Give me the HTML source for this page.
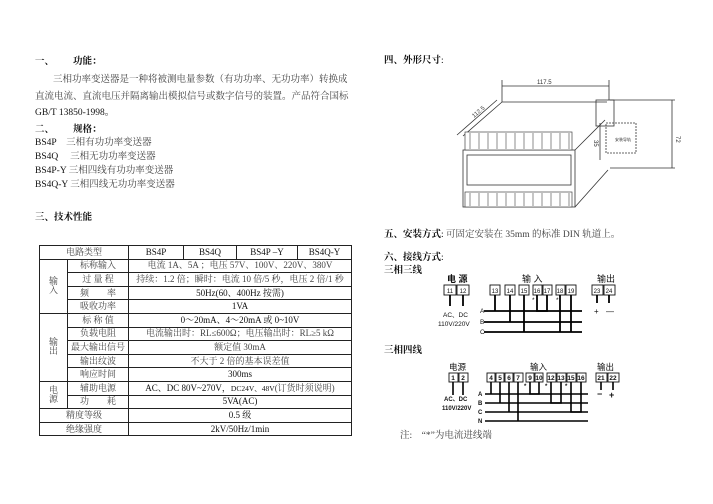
<!DOCTYPE html>
<html><head><meta charset="utf-8"><style>
html,body{margin:0;padding:0;background:#fff;}
body{width:713px;height:504px;position:relative;overflow:hidden;font-family:"Liberation Serif","Noto Serif CJK SC",serif;color:#111;}
.t{position:absolute;font-size:9.5px;white-space:nowrap;line-height:1;}
.b{font-weight:bold;}
table{position:absolute;left:39px;top:245px;border-collapse:collapse;font-size:9px;}
td{border:1px solid #222;height:12.6px;padding:0;text-align:center;line-height:1;}
.g{color:#444;}
</style></head><body>
<div class="t b" style="left:35px;top:58px">一、&nbsp;&nbsp;&nbsp;&nbsp;&nbsp;&nbsp;&nbsp;&nbsp;功能：</div>
<div class="t g" style="left:53px;top:76px">三相功率变送器是一种将被测电量参数（有功功率、无功功率）转换成</div>
<div class="t g" style="left:35px;top:93px">直流电流、直流电压并隔离输出模拟信号或数字信号的装置。产品符合国标</div>
<div class="t" style="left:35px;top:109px">GB/T 13850-1998。</div>
<div class="t b" style="left:35px;top:126px">二、&nbsp;&nbsp;&nbsp;&nbsp;&nbsp;&nbsp;&nbsp;&nbsp;规格：</div>
<div class="t" style="left:35px;top:139px">BS4P&nbsp;&nbsp;&nbsp;&nbsp;<span class="g">三相有功功率变送器</span></div>
<div class="t" style="left:35px;top:153px">BS4Q&nbsp;&nbsp;&nbsp;&nbsp;&nbsp;<span class="g">三相无功功率变送器</span></div>
<div class="t" style="left:35px;top:167px">BS4P-Y <span class="g">三相四线有功功率变送器</span></div>
<div class="t" style="left:35px;top:181px">BS4Q-Y <span class="g">三相四线无功功率变送器</span></div>
<div class="t b" style="left:35px;top:214px">三、技术性能</div>

<table>
<tr><td colspan="2" style="width:88px" class="g">电路类型</td><td style="width:54px">BS4P</td><td style="width:52px">BS4Q</td><td style="width:60px">BS4P –Y</td><td style="width:53px">BS4Q-Y</td></tr>
<tr><td rowspan="4" style="width:27px" class="g">输<br>入</td><td class="g">标称输入</td><td colspan="4" class="g">电流 1A、5A ；电压 57V、100V、220V、380V</td></tr>
<tr><td class="g">过 量 程</td><td colspan="4" class="g">持续：1.2 倍；瞬时：电流 10 倍/5 秒，电压 2 倍/1 秒</td></tr>
<tr><td class="g">频　　率</td><td colspan="4">50Hz(60、400Hz 按需)</td></tr>
<tr><td class="g">吸收功率</td><td colspan="4">1VA</td></tr>
<tr><td rowspan="5" class="g">输<br>出</td><td class="g">标 称 值</td><td colspan="4">0～20mA、4～20mA 或 0~10V</td></tr>
<tr><td class="g">负载电阻</td><td colspan="4" class="g">电流输出时：RL≤600Ω；电压输出时：RL≥5 kΩ</td></tr>
<tr><td class="g">最大输出信号</td><td colspan="4" class="g">额定值 30mA</td></tr>
<tr><td class="g">输出纹波</td><td colspan="4" class="g">不大于 2 倍的基本误差值</td></tr>
<tr><td class="g">响应时间</td><td colspan="4">300ms</td></tr>
<tr><td rowspan="2" class="g">电<br>源</td><td class="g">辅助电源</td><td colspan="4">AC、DC 80V~270V，<span style="font-size:7.5px">DC24V、48V</span><span class="g">(订货时须说明)</span></td></tr>
<tr><td class="g">功　　耗</td><td colspan="4">5VA(AC)</td></tr>
<tr><td colspan="2" class="g">精度等级</td><td colspan="4">0.5 级</td></tr>
<tr><td colspan="2" class="g">绝缘强度</td><td colspan="4">2kV/50Hz/1min</td></tr>
</table>

<div class="t b" style="left:384px;top:57px">四、外形尺寸<span style="font-weight:normal">:</span></div>
<div class="t b" style="left:384px;top:231px">五、安装方式<span style="font-weight:normal">: <span class="g">可固定安装在 35mm 的标准 DIN 轨道上。</span></span></div>
<div class="t b" style="left:384px;top:254px">六、接线方式<span style="font-weight:normal">:</span></div>
<div class="t b" style="left:384px;top:267px">三相三线</div>
<div class="t b" style="left:384px;top:347px">三相四线</div>
<div class="t g" style="left:400px;top:432px">注:　“*”为电流进线端</div>

<svg width="713" height="504" style="position:absolute;left:0;top:0" font-family="Liberation Sans, Noto Sans CJK SC, sans-serif">
<g stroke="#333" fill="none" stroke-width="0.8">
<line x1="502" y1="86" x2="609" y2="86"/><line x1="502" y1="80" x2="502" y2="102"/><line x1="609" y1="80" x2="609" y2="100"/>
<line x1="457" y1="135" x2="497" y2="100"/><line x1="463" y1="136" x2="502" y2="102"/><line x1="502" y1="102" x2="607" y2="102"/>
<line x1="610" y1="100" x2="675" y2="100"/><line x1="610" y1="168" x2="675" y2="168"/>
<line x1="672" y1="100" x2="672" y2="168"/>
<rect x="463" y="150" width="112" height="57"/>
<rect x="467" y="155" width="104" height="30"/>
<line x1="575" y1="150" x2="605" y2="120"/><line x1="575" y1="207" x2="608" y2="170"/>
<rect x="596" y="100" width="18" height="26"/>
<rect x="606" y="123" width="30" height="30" stroke-dasharray="2,1"/>
<line x1="600" y1="123" x2="600" y2="160"/>
</g>
<g stroke="#444" stroke-width="0.7" fill="#fff">
<rect x="465" y="132" width="107" height="18"/><rect x="465" y="192" width="107" height="15"/>
</g>
<g stroke="#444" stroke-width="0.6">
<path d="M470 133v16M479 133v16M488 133v16M497 133v16M506 133v16M515 133v16M524 133v16M533 133v16M542 133v16M551 133v16M560 133v16M569 133v16"/>
<path d="M470 193v13M479 193v13M488 193v13M497 193v13M506 193v13M515 193v13M524 193v13M533 193v13M542 193v13M551 193v13M560 193v13M569 193v13"/>
</g>
<text x="537" y="84" font-size="6" fill="#333">117.5</text>
<text x="474" y="118" font-size="6" fill="#333" transform="rotate(-40 474 118)">112.5</text>
<text x="676" y="136" font-size="6" fill="#333" transform="rotate(90 676 136)">72</text>
<text x="594" y="140" font-size="6" fill="#333" transform="rotate(90 594 140)">35</text>
<text x="615" y="141" font-size="4" fill="#333">安装导轨</text>

<!-- 3-phase 3-wire -->
<g font-size="9" fill="#111">
<text x="447" y="282" font-weight="bold">电 源</text>
<text x="522" y="282">输 入</text>
<text x="597" y="282">输出</text>
</g>
<g stroke="#111" fill="#fff" stroke-width="0.9">
<rect x="444" y="285" width="12" height="10"/><rect x="457" y="285" width="12" height="10"/>
<rect x="490" y="285" width="10" height="10"/><rect x="505" y="285" width="10" height="10"/><rect x="519" y="285" width="10" height="10"/>
<rect x="533" y="285" width="9" height="10"/><rect x="543" y="285" width="9" height="10"/>
<rect x="556" y="285" width="9" height="10"/><rect x="566" y="285" width="10" height="10"/>
<rect x="592" y="285" width="11" height="10"/><rect x="604" y="285" width="11" height="10"/>
</g>
<g font-size="6" fill="#111" text-anchor="middle">
<text x="450" y="293">11</text><text x="463" y="293">12</text><text x="495" y="293">13</text><text x="510" y="293">14</text><text x="524" y="293">15</text>
<text x="537" y="293">16</text><text x="547" y="293">17</text><text x="560" y="293">18</text><text x="571" y="293">19</text>
<text x="597" y="293">23</text><text x="609" y="293">24</text>
</g>
<g stroke="#000" stroke-width="1.8" fill="none">
<path d="M484 311H582M484 322H582M484 332H582"/>
<path d="M450 295v11M463 295v11"/>
<path d="M495 295v16M510 295v27M524 295v37M537 295v16h10v-16M560 295v37M571 295v37"/>
<path d="M597 295v8M609 295v8"/>
</g>
<g font-size="6.5" fill="#111">
<text x="480" y="313">A</text><text x="480" y="324">B</text><text x="480" y="334">C</text>
<text x="443" y="317">AC、DC</text><text x="438" y="326">110V/220V</text>
<text x="594" y="314" font-size="8">+</text><text x="606" y="314" font-size="8">—</text>
<text x="532" y="302">*</text><text x="556" y="302">*</text>
</g>

<!-- 3-phase 4-wire -->
<g font-size="8.5" fill="#111">
<text x="449" y="370">电源</text><text x="530" y="370">输入</text><text x="597" y="370">输出</text>
</g>
<g stroke="#111" fill="#fff" stroke-width="0.9">
<rect x="449" y="373" width="9" height="9"/><rect x="459" y="373" width="9" height="9"/>
<rect x="487" y="373" width="8" height="9"/><rect x="496" y="373" width="8" height="9"/><rect x="505" y="373" width="8" height="9"/><rect x="514" y="373" width="9" height="9"/>
<rect x="526" y="373" width="8" height="9"/><rect x="535" y="373" width="8" height="9"/>
<rect x="547" y="373" width="9" height="9"/><rect x="557" y="373" width="9" height="9"/>
<rect x="567" y="373" width="9" height="9"/><rect x="577" y="373" width="9" height="9"/>
<rect x="596" y="373" width="11" height="9"/><rect x="608" y="373" width="11" height="9"/>
</g>
<g font-size="6.5" fill="#111" text-anchor="middle" font-weight="bold">
<text x="453" y="380">1</text><text x="463" y="380">2</text><text x="491" y="380">4</text><text x="500" y="380">5</text><text x="509" y="380">6</text><text x="518" y="380">7</text>
<text x="530" y="380">9</text><text x="539" y="380">10</text><text x="551" y="380">12</text><text x="561" y="380">13</text><text x="571" y="380">15</text><text x="581" y="380">16</text>
<text x="601" y="380">21</text><text x="613" y="380">22</text>
</g>
<g stroke="#000" stroke-width="1.6" fill="none">
<path d="M485 394H588M485 403H588M485 412H588M485 421H588"/>
<path d="M453 382v13M463 382v13"/>
<path d="M491 382v12M500 382v21M509 382v30M518 382v39M530 382v12h9v-12M551 382v21h10v-21M571 382v30h10v-30"/>
<path d="M601 382v8M613 382v8"/>
</g>
<g font-size="6" fill="#111" font-weight="bold">
<text x="478" y="396">A</text><text x="478" y="405">B</text><text x="478" y="414">C</text><text x="478" y="423">N</text>
<text x="444" y="401">AC、DC</text><text x="442" y="410">110V/220V</text>
<text x="597" y="397" font-size="9">−</text><text x="609" y="398" font-size="9">+</text>
<text x="524" y="388">*</text><text x="545" y="388">*</text><text x="565" y="388">*</text>
</g>
</svg>
</body></html>
